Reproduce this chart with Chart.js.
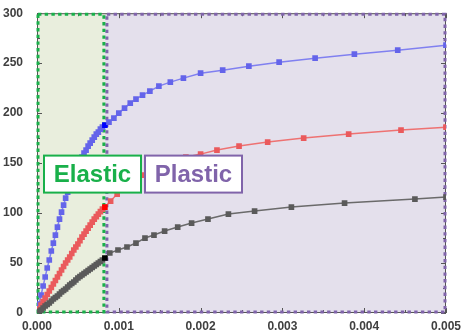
<!DOCTYPE html>
<html>
<head>
<meta charset="utf-8">
<script src="https://cdn.jsdelivr.net/npm/chart.js@4/dist/chart.umd.min.js"></script>
<style>
  html, body { margin: 0; padding: 0; background: #fff; }
  #wrap { width: 463px; height: 335px; }
</style>
</head>
<body>
<div id="wrap"><canvas id="chart" width="463" height="335"></canvas></div>
<script>
// strain values (x) and stress values (y)
const yieldStrain = 0.00083;

const elasticStrain = [0, 0.000025, 0.00005, 0.000075, 0.0001, 0.000125, 0.00015, 0.000175, 0.0002,
  0.000225, 0.00025, 0.000275, 0.0003, 0.000325, 0.00035, 0.000375, 0.0004, 0.000425, 0.00045,
  0.000475, 0.0005, 0.000525, 0.00055, 0.000575, 0.0006, 0.000625, 0.00065, 0.000675, 0.0007,
  0.000725, 0.00075, 0.000775, 0.0008, 0.00083];
const blueElastic = [0, 9, 18, 27, 36, 45, 53, 62, 70, 78, 86, 94, 101, 108, 115, 121, 127, 133, 138,
  143, 148, 152, 156, 160, 163, 167, 170, 173, 176, 179, 181, 184, 186, 188];
const redElastic = [0, 4, 8, 11.5, 15, 18.5, 22, 25.5, 29, 32.5, 36, 39.5, 43, 46.5, 50, 53, 56, 59.5, 63,
  66, 69, 72.5, 76, 79, 82, 85, 88, 91, 94, 96.5, 99, 101.5, 104, 106];
const grayElastic = [0, 1.7, 3, 5, 7, 8.5, 10, 12, 14, 15.5, 17, 19, 21, 22.5, 24, 26, 28, 29.5, 31,
  33, 35, 36.5, 38, 39.5, 41, 42.5, 44, 45.5, 47, 48.5, 50, 51.5, 53, 55];

const bluePlasticStrain = [0.00088, 0.00094, 0.001, 0.00107, 0.00114, 0.00121, 0.00129, 0.00138, 0.00149,
  0.00163, 0.00179, 0.002, 0.00227, 0.00259, 0.00296, 0.0034, 0.00388, 0.00441, 0.005];
const bluePlastic = [191, 195, 200, 205, 210, 214, 218, 222, 227, 231, 235, 240, 243, 247, 251, 255, 259, 263, 268];

const redPlasticStrain = [0.0009, 0.00098, 0.00107, 0.00117, 0.00128, 0.0014, 0.00153, 0.00167, 0.00182,
  0.002, 0.0022, 0.00247, 0.00282, 0.00326, 0.00381, 0.00445, 0.005];
const redPlastic = [112, 119, 126, 132, 138, 143, 148, 152, 156, 159, 163, 167, 171, 175, 179, 183, 186];

const grayPlasticStrain = [0.00089, 0.00099, 0.0011, 0.00121, 0.00132, 0.00143, 0.00156, 0.00172, 0.00189,
  0.00209, 0.00234, 0.00266, 0.00311, 0.00376, 0.00462, 0.005];
const grayPlastic = [60, 63, 66, 70, 75, 78, 82, 86, 90, 94, 99, 102, 106, 110, 114, 116];

const xTicks = [0, 0.001, 0.002, 0.003, 0.004, 0.005];
const yTicks = [0, 50, 100, 150, 200, 250, 300];

const regionLabels = ["Elastic", "Plastic"];
const labelStress = 139;

function points(xs, ys) {
  return xs.map((x, i) => ({ x: x, y: ys[i] }));
}

function series(name, plasticX, elasticY, plasticY, line, mark, dark) {
  const data = points(elasticStrain, elasticY).concat(points(plasticX, plasticY));
  return {
    label: name,
    data: data,
    borderColor: line,
    borderWidth: 1.5,
    pointStyle: 'rect',
    pointRadius: 4,
    pointBorderWidth: 0,
    pointBackgroundColor: data.map(p => p.x === yieldStrain ? dark : mark),
    tension: 0
  };
}

const FONT = "'Liberation Sans', Arial, sans-serif";

const regions = {
  id: 'regions',
  beforeDatasetsDraw(chart) {
    const { ctx, chartArea: a, scales: { x, y } } = chart;
    const xy = x.getPixelForValue(yieldStrain);
    ctx.save();
    ctx.fillStyle = '#e9eedd';
    ctx.fillRect(a.left, a.top, xy - a.left, a.bottom - a.top);
    ctx.fillStyle = '#e4e0ec';
    ctx.fillRect(xy, a.top, a.right - xy, a.bottom - a.top);

    // frame and inner ticks
    ctx.strokeStyle = '#555';
    ctx.lineWidth = 1;
    ctx.strokeRect(a.left + 0.5, a.top + 0.5, a.right - a.left - 1, a.bottom - a.top - 1);
    ctx.beginPath();
    for (let v = 0; v <= 300; v += 25) {
      const py = Math.round(y.getPixelForValue(v)) + 0.5;
      const len = v % 50 === 0 ? 5 : 3;
      ctx.moveTo(a.left, py); ctx.lineTo(a.left + len, py);
      ctx.moveTo(a.right, py); ctx.lineTo(a.right - len, py);
    }
    for (let i = 0; i <= 10; i++) {
      const v = i * 0.0005;
      const px = Math.round(x.getPixelForValue(v)) + 0.5;
      const len = i % 2 === 0 ? 5 : 3;
      ctx.moveTo(px, a.top); ctx.lineTo(px, a.top + len);
      ctx.moveTo(px, a.bottom); ctx.lineTo(px, a.bottom - len);
    }
    ctx.stroke();

    // dotted region borders
    ctx.lineWidth = 3;
    ctx.lineCap = 'butt';
    ctx.setLineDash([3.4, 3.3]);
    ctx.strokeStyle = '#8064aa';
    ctx.strokeRect(xy + 2, a.top + 1, a.right - xy - 3, a.bottom - a.top - 2);
    ctx.strokeStyle = '#19b04a';
    ctx.strokeRect(a.left + 1, a.top + 1, xy - a.left - 2, a.bottom - a.top - 2);
    ctx.restore();
  },
  afterDatasetsDraw(chart) {
    const { ctx, chartArea: a, scales: { y } } = chart;
    const cy = y.getPixelForValue(labelStress);
    const boxes = [
      { text: regionLabels[0], left: a.left + 7, color: '#19b04a' },
      { text: regionLabels[1], left: a.left + 108, color: '#8064aa' }
    ];
    ctx.save();
    ctx.font = 'bold 24px ' + FONT;
    ctx.textAlign = 'center';
    ctx.textBaseline = 'middle';
    boxes.forEach(b => {
      const w = 97, h = 37;
      ctx.fillStyle = '#fff';
      ctx.fillRect(b.left, cy - h / 2, w, h);
      ctx.strokeStyle = b.color;
      ctx.lineWidth = 2;
      ctx.strokeRect(b.left, cy - h / 2, w, h);
      ctx.fillStyle = b.color;
      ctx.fillText(b.text, b.left + w / 2, cy + 1);
    });
    ctx.restore();
  }
};

const ctx = document.getElementById('chart').getContext('2d');
const chart = new Chart(ctx, {
  type: 'line',
  data: {
    datasets: [
      series('Gray', grayPlasticStrain, grayElastic, grayPlastic, '#6a6a6a', '#5a5a5a', '#000'),
      series('Red', redPlasticStrain, redElastic, redPlastic, '#ee7272', '#ea5a5c', '#ff0000'),
      series('Blue', bluePlasticStrain, blueElastic, bluePlastic, '#8080f0', '#6464ea', '#0000ff')
    ]
  },
  options: {
    responsive: false,
    animation: false,
    layout: { padding: { top: 13, right: 17, left: 0, bottom: 0 } },
    plugins: { legend: { display: false }, tooltip: { enabled: false } },
    scales: {
      x: {
        type: 'linear',
        min: 0,
        max: 0.005,
        grid: { display: false },
        border: { display: false },
        afterBuildTicks: s => { s.ticks = xTicks.map(v => ({ value: v })); },
        afterFit: s => { s.height = 22; },
        ticks: {
          padding: -2,
          color: '#404040',
          font: { family: FONT, size: 12, weight: 'bold' },
          maxRotation: 0,
          callback: v => v.toFixed(3)
        }
      },
      y: {
        min: 0,
        max: 300,
        grid: { display: false },
        border: { display: false },
        afterBuildTicks: s => { s.ticks = yTicks.map(v => ({ value: v })); },
        afterFit: s => { s.width = 37; },
        ticks: {
          padding: 6,
          color: '#404040',
          font: { family: FONT, size: 12, weight: 'bold' }
        }
      }
    }
  },
  plugins: [regions]
});
</script>
</body>
</html>
